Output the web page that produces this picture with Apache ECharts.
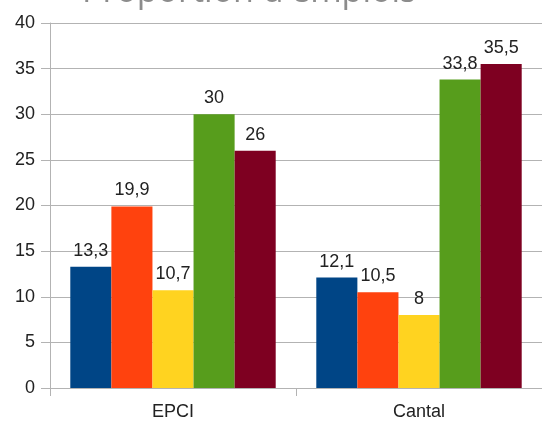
<!DOCTYPE html>
<html>
<head>
<meta charset="utf-8">
<script src="https://cdn.jsdelivr.net/npm/echarts@6/dist/echarts.min.js"></script>
<style>html,body{margin:0;padding:0;background:#fff;}#c{width:542px;height:422px;}</style>
</head>
<body>
<div id="c"></div>
<script>
const titleText = "Proportion d'emplois";
const categories = ["EPCI", "Cantal"];
const seriesNames = ["Série 1", "Série 2", "Série 3", "Série 4", "Série 5"];
const s1 = [13.3, 12.1];
const s2 = [19.9, 10.5];
const s3 = [10.7, 8];
const s4 = [30, 33.8];
const s5 = [26, 35.5];
const yTicks = [0, 5, 10, 15, 20, 25, 30, 35, 40];
const colors = ["#004586", "#ff420e", "#ffd320", "#579d1c", "#7e0021"];

const font = "Liberation Sans";
const allValues = [s1, s2, s3, s4, s5];
const chart = echarts.init(document.getElementById('c'), null, {renderer: 'canvas'});
chart.setOption({
  animation: false,
  title: {
    text: titleText,
    left: 82,
    top: -25,
    padding: 0,
    textStyle: {fontFamily: "Open Sans", fontSize: 34, lineHeight: 34, fontWeight: 'normal', color: '#8c8c8c'}
  },
  grid: {left: 50, right: -6, top: 23, bottom: 34, containLabel: false},
  xAxis: {
    type: 'category',
    data: categories,
    axisLine: {lineStyle: {color: '#b3b3b3', width: 1}},
    axisTick: {show: true, length: 8, lineStyle: {color: '#b3b3b3'}},
    axisLabel: {fontFamily: font, fontSize: 18, color: '#222', margin: 15}
  },
  yAxis: {
    type: 'value',
    min: yTicks[0],
    max: yTicks[yTicks.length - 1],
    interval: yTicks[1] - yTicks[0],
    axisLine: {show: true, lineStyle: {color: '#b3b3b3', width: 1}},
    axisTick: {show: true, length: 9, lineStyle: {color: '#b3b3b3'}},
    splitLine: {show: true, lineStyle: {color: '#b3b3b3', width: 1}},
    axisLabel: {fontFamily: font, fontSize: 18, color: '#222', margin: 15}
  },
  series: allValues.map((vals, i) => ({
    name: seriesNames[i],
    type: 'bar',
    data: vals,
    barGap: '0%',
    barCategoryGap: '16.5%',
    itemStyle: {color: colors[i]},
    label: {
      show: true,
      position: 'top',
      distance: 7,
      fontFamily: font,
      fontSize: 18,
      color: '#222',
      formatter: p => String(p.value).replace('.', ',')
    }
  }))
});
</script>
</body>
</html>
